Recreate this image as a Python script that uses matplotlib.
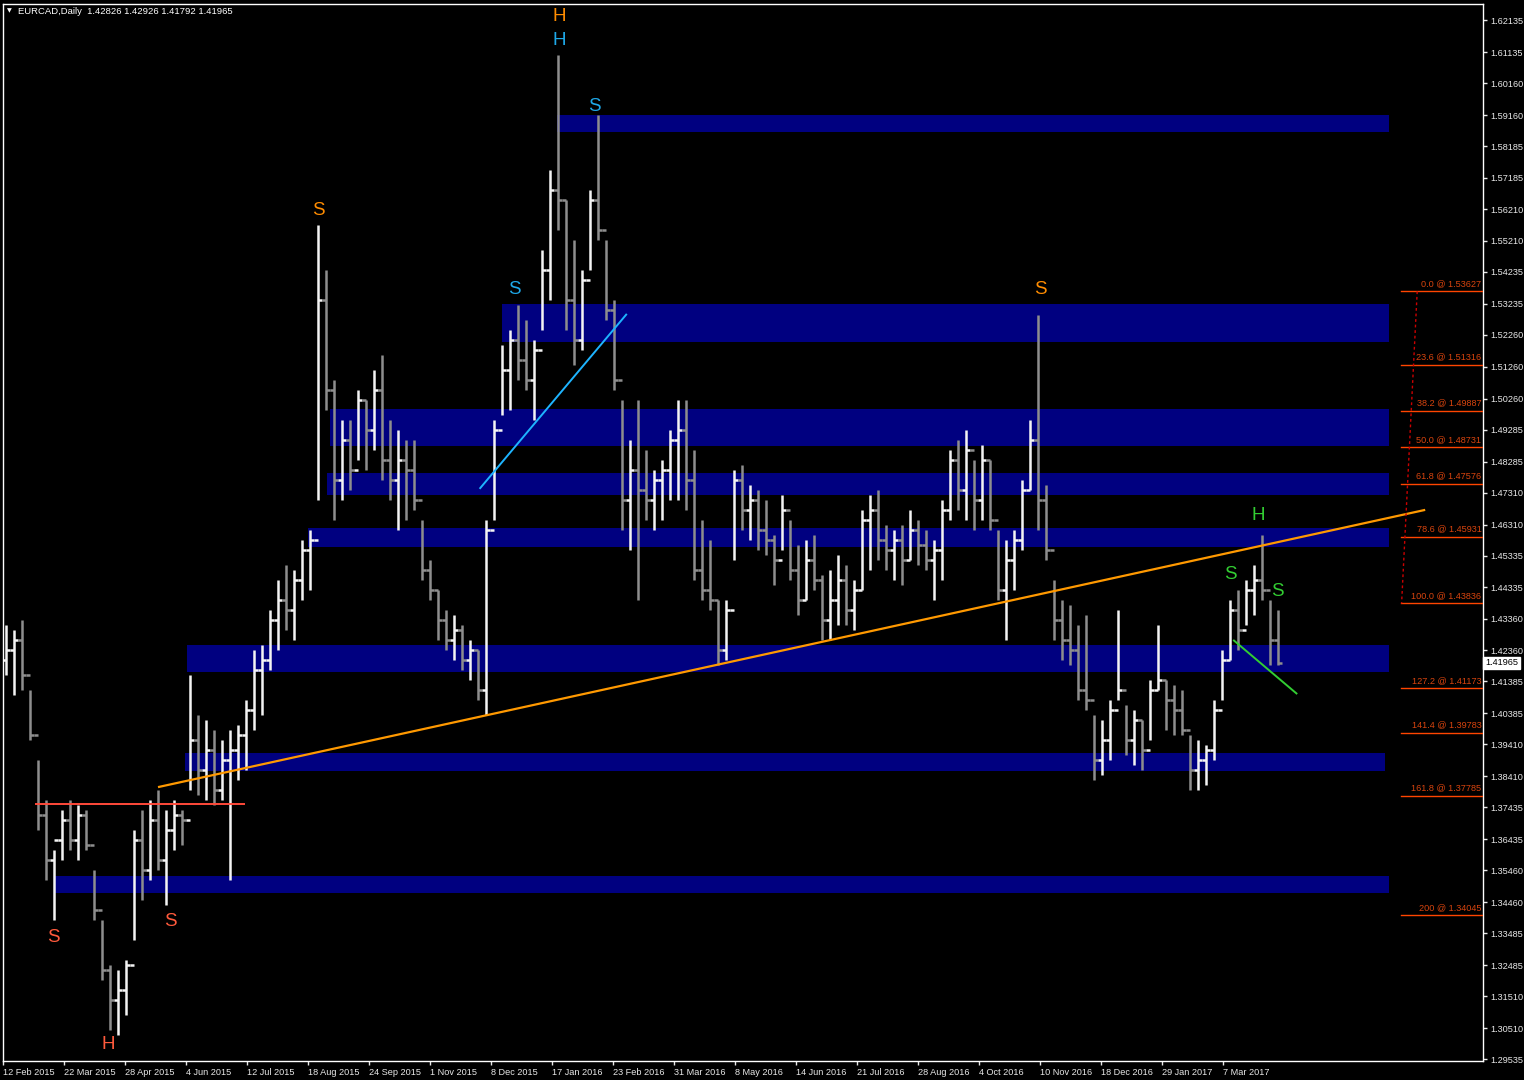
import numpy as np
import matplotlib
matplotlib.use('Agg')
import matplotlib.pyplot as plt
from matplotlib.collections import LineCollection
from matplotlib.patches import Rectangle

# EURCAD daily, one bar per ~4 trading days
highs = [1.4316, 1.4300, 1.4331, 1.4112, 1.3892, 1.3767, 1.3610, 1.3735, 1.3767, 1.3751,
         1.3735, 1.3547, 1.3390, 1.3249, 1.3233, 1.3265, 1.3673, 1.3735, 1.3767, 1.3798,
         1.3735, 1.3767, 1.3735, 1.4159, 1.4033, 1.4018, 1.3986, 1.3955, 1.3986, 1.4002,
         1.4080, 1.4237, 1.4253, 1.4363, 1.4457, 1.4504, 1.4488, 1.4582, 1.4614, 1.5571,
         1.5430, 1.5085, 1.4959, 1.4959, 1.5053, 1.5022, 1.5116, 1.5163, 1.4959, 1.4928,
         1.4896, 1.4896, 1.4645, 1.4520, 1.4426, 1.4363, 1.4347, 1.4316, 1.4269, 1.4237,
         1.4645, 1.4959, 1.5194, 1.5242, 1.5320, 1.5273, 1.5210, 1.5493, 1.5744, 1.6104,
         1.5649, 1.5524, 1.5430, 1.5681, 1.5916, 1.5524, 1.5336, 1.5022, 1.4896, 1.5022,
         1.4865, 1.4802, 1.4834, 1.4928, 1.5022, 1.5022, 1.4865, 1.4645, 1.4582, 1.4394,
         1.4394, 1.4802, 1.4818, 1.4755, 1.4740, 1.4708, 1.4598, 1.4724, 1.4645, 1.4567,
         1.4582, 1.4598, 1.4473, 1.4488, 1.4535, 1.4504, 1.4457, 1.4677, 1.4724, 1.4740,
         1.4630, 1.4614, 1.4630, 1.4677, 1.4645, 1.4614, 1.4582, 1.4708, 1.4865, 1.4896,
         1.4928, 1.4834, 1.4881, 1.4834, 1.4614, 1.4582, 1.4614, 1.4771, 1.4959, 1.5289,
         1.4755, 1.4457, 1.4394, 1.4379, 1.4316, 1.4347, 1.4033, 1.4018, 1.4080, 1.4363,
         1.4065, 1.4049, 1.4018, 1.4143, 1.4316, 1.4143, 1.4128, 1.4112, 1.3971, 1.3955,
         1.3939, 1.4080, 1.4237, 1.4394, 1.4426, 1.4457, 1.4504, 1.4598, 1.4394, 1.4363]

lows = [1.4159, 1.4096, 1.4112, 1.3955, 1.3673, 1.3516, 1.3390, 1.3578, 1.3610, 1.3578,
        1.3610, 1.3390, 1.3202, 1.3045, 1.3029, 1.3092, 1.3327, 1.3453, 1.3516, 1.3547,
        1.3437, 1.3610, 1.3626, 1.3798, 1.3782, 1.3767, 1.3751, 1.3767, 1.3516, 1.3829,
        1.3861, 1.3986, 1.4033, 1.4175, 1.4237, 1.4300, 1.4269, 1.4394, 1.4426, 1.4708,
        1.4991, 1.4645, 1.4708, 1.4740, 1.4834, 1.4802, 1.4865, 1.4771, 1.4708, 1.4614,
        1.4645, 1.4677, 1.4457, 1.4394, 1.4269, 1.4237, 1.4206, 1.4175, 1.4143, 1.4080,
        1.4033, 1.4645, 1.4975, 1.4991, 1.5085, 1.5053, 1.4959, 1.5242, 1.5336, 1.5555,
        1.5242, 1.5132, 1.5179, 1.5430, 1.5524, 1.5273, 1.5053, 1.4614, 1.4551, 1.4394,
        1.4645, 1.4614, 1.4645, 1.4708, 1.4708, 1.4677, 1.4457, 1.4394, 1.4363, 1.4190,
        1.4206, 1.4520, 1.4614, 1.4582, 1.4551, 1.4535, 1.4441, 1.4551, 1.4457, 1.4347,
        1.4394, 1.4426, 1.4269, 1.4269, 1.4316, 1.4316, 1.4300, 1.4426, 1.4488, 1.4520,
        1.4488, 1.4457, 1.4441, 1.4520, 1.4504, 1.4488, 1.4394, 1.4457, 1.4645, 1.4677,
        1.4645, 1.4614, 1.4645, 1.4614, 1.4394, 1.4269, 1.4426, 1.4551, 1.4740, 1.4614,
        1.4520, 1.4269, 1.4206, 1.4190, 1.4080, 1.4049, 1.3829, 1.3845, 1.3892, 1.4080,
        1.3908, 1.3877, 1.3861, 1.3955, 1.4112, 1.3986, 1.3971, 1.3971, 1.3798, 1.3798,
        1.3814, 1.3892, 1.4080, 1.4206, 1.4237, 1.4316, 1.4347, 1.4394, 1.4190, 1.4190]

closes = [1.4237, 1.4269, 1.4159, 1.3971, 1.3720, 1.3578, 1.3641, 1.3704, 1.3641, 1.3720,
          1.3626, 1.3422, 1.3233, 1.3139, 1.3171, 1.3249, 1.3641, 1.3547, 1.3704, 1.3578,
          1.3673, 1.3720, 1.3704, 1.3955, 1.3861, 1.3924, 1.3798, 1.3892, 1.3924, 1.3971,
          1.4049, 1.4175, 1.4206, 1.4331, 1.4394, 1.4363, 1.4457, 1.4551, 1.4582, 1.5336,
          1.5053, 1.4771, 1.4896, 1.4802, 1.5022, 1.4928, 1.5053, 1.4834, 1.4771, 1.4834,
          1.4802, 1.4708, 1.4488, 1.4426, 1.4331, 1.4269, 1.4300, 1.4206, 1.4237, 1.4112,
          1.4614, 1.4928, 1.5116, 1.5210, 1.5147, 1.5085, 1.5179, 1.5430, 1.5681, 1.5649,
          1.5336, 1.5210, 1.5398, 1.5649, 1.5555, 1.5304, 1.5085, 1.4708, 1.4802, 1.4740,
          1.4708, 1.4771, 1.4802, 1.4896, 1.4928, 1.4771, 1.4488, 1.4426, 1.4394, 1.4237,
          1.4363, 1.4771, 1.4677, 1.4708, 1.4614, 1.4582, 1.4520, 1.4677, 1.4488, 1.4394,
          1.4520, 1.4457, 1.4331, 1.4394, 1.4457, 1.4363, 1.4426, 1.4645, 1.4677, 1.4582,
          1.4551, 1.4582, 1.4520, 1.4614, 1.4567, 1.4520, 1.4551, 1.4677, 1.4834, 1.4740,
          1.4865, 1.4708, 1.4834, 1.4645, 1.4426, 1.4520, 1.4582, 1.4740, 1.4896, 1.4708,
          1.4551, 1.4331, 1.4269, 1.4237, 1.4112, 1.4080, 1.3892, 1.3955, 1.4049, 1.4112,
          1.3955, 1.4018, 1.3924, 1.4112, 1.4143, 1.4080, 1.4049, 1.3986, 1.3861, 1.3892,
          1.3924, 1.4049, 1.4206, 1.4363, 1.4300, 1.4426, 1.4457, 1.4426, 1.4269, 1.41965]
first_open = 1.4206

date_labels = ['12 Feb 2015', '22 Mar 2015', '28 Apr 2015', '4 Jun 2015', '12 Jul 2015',
               '18 Aug 2015', '24 Sep 2015', '1 Nov 2015', '8 Dec 2015', '17 Jan 2016',
               '23 Feb 2016', '31 Mar 2016', '8 May 2016', '14 Jun 2016', '21 Jul 2016',
               '28 Aug 2016', '4 Oct 2016', '10 Nov 2016', '18 Dec 2016', '29 Jan 2017',
               '7 Mar 2017']
price_ticks = [1.62135, 1.61135, 1.60160, 1.59160, 1.58185, 1.57185, 1.56210, 1.55210,
               1.54235, 1.53235, 1.52260, 1.51260, 1.50260, 1.49285, 1.48285, 1.47310,
               1.46310, 1.45335, 1.44335, 1.43360, 1.42360, 1.41385, 1.40385, 1.39410,
               1.38410, 1.37435, 1.36435, 1.35460, 1.34460, 1.33485, 1.32485, 1.31510,
               1.30510, 1.29535]

# supply / demand zones (top, bottom, start bar, end bar)
zone_tops = [1.5916, 1.5323, 1.4994, 1.4793, 1.4620, 1.4253, 1.3914, 1.3528]
zone_bottoms = [1.5863, 1.5204, 1.4877, 1.4724, 1.4561, 1.4168, 1.3858, 1.3475]
zone_starts = [68.9, 62.0, 40.5, 40.1, 37.8, 22.6, 22.4, 6.1]
zone_ends = [172.9, 172.9, 172.9, 172.9, 172.9, 172.9, 172.4, 172.9]

fib_levels = ['0.0', '23.6', '38.2', '50.0', '61.8', '78.6', '100.0', '127.2', '141.4', '161.8', '200']
fib_prices = [1.53627, 1.51316, 1.49887, 1.48731, 1.47576, 1.45931, 1.43836, 1.41173, 1.39783, 1.37785, 1.34045]

# hand drawn lines (bar, price)
neckline = [(19.0, 1.3807), (177.4, 1.4677)]
red_level = [(3.6, 1.3754), (29.9, 1.3754)]
blue_line = [(59.2, 1.4743), (77.6, 1.5292)]
green_line = [(153.4, 1.4269), (161.4, 1.4099)]

# pattern labels: text, bar, price, colour
marks = [('H', 69.1, 1.6224, '#ff8c00'), ('H', 69.1, 1.6151, '#1ea8e8'),
         ('S', 73.6, 1.5944, '#1ea8e8'), ('S', 39.0, 1.5615, '#ff8c00'),
         ('S', 63.6, 1.5367, '#1ea8e8'), ('S', 129.25, 1.5370, '#ff8c00'),
         ('H', 156.5, 1.4658, '#32cd32'), ('S', 153.1, 1.4473, '#32cd32'),
         ('S', 158.9, 1.4420, '#32cd32'), ('S', 5.9, 1.3334, '#ff5a3c'),
         ('S', 20.5, 1.3384, '#ff5a3c'), ('H', 12.75, 1.2998, '#ff5a3c')]

W, H = 1524, 1080
fig = plt.figure(figsize=(W / 100, H / 100), dpi=100, facecolor='black')
ax = fig.add_axes([3 / W, 19 / H, 1480 / W, 1057 / H])
ax.set_facecolor('black')
ax.set_xlim(-0.375, 184.625)
ax.set_ylim(1.29476, 1.62644)

# zones
for top, bot, x0, x1 in zip(zone_tops, zone_bottoms, zone_starts, zone_ends):
    ax.add_patch(Rectangle((x0, bot), x1 - x0, top - bot, facecolor='#000080',
                           edgecolor='none', zorder=1))

# OHLC bars
x = np.arange(len(highs))
opens = [first_open] + closes[:-1]
segs, cols = [], []
for i in x:
    c = '#f4f4f4' if closes[i] >= opens[i] else '#8e8e8e'
    segs.append([(i, lows[i]), (i, highs[i])])
    segs.append([(i - 0.45, opens[i]), (i, opens[i])])
    segs.append([(i, closes[i]), (i + 0.45, closes[i])])
    cols += [c, c, c]
ax.add_collection(LineCollection(segs, colors=cols, linewidths=1.8, zorder=2))

# trend lines
for pts, col, lw in [(neckline, '#ff9900', 1.6), (red_level, '#ff4a3a', 1.4),
                     (blue_line, '#1eb4ff', 1.4), (green_line, '#32cd32', 1.4)]:
    ax.plot([p[0] for p in pts], [p[1] for p in pts], color=col, lw=lw, zorder=3,
            solid_capstyle='butt')

# fibonacci expansion
fib_x0, fib_x1 = 174.4, 184.625
for lvl, pr in zip(fib_levels, fib_prices):
    ax.plot([fib_x0, fib_x1], [pr, pr], color='#ff4500', lw=1.0, zorder=3)
    ax.text(fib_x1 - 0.2, pr + 0.0011, f'{lvl} @ {pr:.5f}', color='#d8440e',
            fontsize=6.6, family='Liberation Sans', ha='right', va='bottom', zorder=4)
ax.plot([176.4, 174.45], [fib_prices[0], fib_prices[6]], color='#cc0000', lw=1.0,
        ls=(0, (2, 2)), zorder=3)

for t, bx, pr, col in marks:
    ax.text(bx, pr, t, color=col, fontsize=13.5, family='Liberation Sans',
            ha='center', va='center', zorder=5)

# axes styling
for s in ax.spines.values():
    s.set_color('white')
    s.set_linewidth(1.0)
ax.yaxis.tick_right()
ax.set_yticks(price_ticks)
ax.set_yticklabels([f'{p:.5f}' for p in price_ticks])
ax.tick_params(axis='y', colors='#e8e8e8', labelsize=6.6, length=3, width=1, pad=2)
for lab in ax.get_yticklabels():
    lab.set_family('Liberation Sans')

tick_x = [-0.375 + 7.625 * k for k in range(len(date_labels))]
ax.set_xticks(tick_x)
ax.set_xticklabels(date_labels)
ax.tick_params(axis='x', colors='#e8e8e8', labelsize=6.6, length=3, width=1, pad=2)
for lab in ax.get_xticklabels():
    lab.set_ha('left')
    lab.set_family('Liberation Sans')

# current price box
ax.text(1.0015, closes[-1], f'{closes[-1]:.5f}', transform=ax.get_yaxis_transform(),
        color='black', fontsize=6.6, family='Liberation Sans', ha='left', va='center',
        bbox=dict(boxstyle='square,pad=0.2', facecolor='white', edgecolor='white'),
        zorder=6, clip_on=False)

fig.text(7 / W, 1 - 11 / H, '\u25bc', color='white', fontsize=4.5, va='center', ha='left')
fig.text(18 / W, 1 - 11 / H, 'EURCAD,Daily  1.42826 1.42926 1.41792 1.41965', color='white',
         fontsize=6.8, family='Liberation Sans', va='center', ha='left')

fig.savefig('out.png', dpi=100, facecolor='black')
